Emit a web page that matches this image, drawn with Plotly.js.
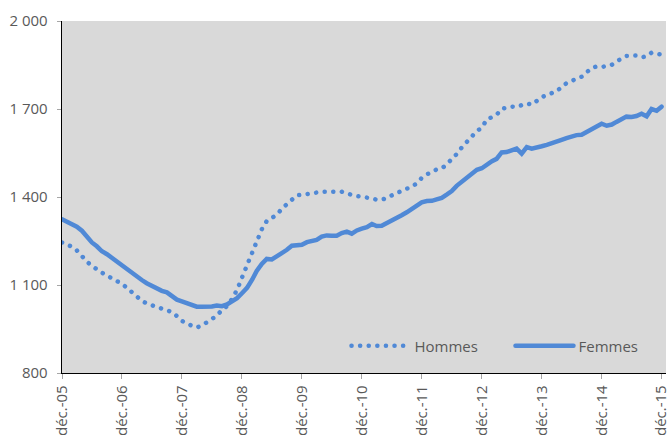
<!DOCTYPE html>
<html>
<head>
<meta charset="utf-8">
<script src="https://cdn.plot.ly/plotly-3.0.1.min.js"></script>
<style>
  html, body { margin: 0; padding: 0; background: #fff; }
  #chart .js-line, #chart .legendlines path { stroke-linecap: round !important; }
</style>
</head>
<body>
<div id="chart" style="width:670px;height:435px;"></div>
<script>
// Monthly values, déc. 2005 -> déc. 2015 (121 months)
const startYear = 2005, startMonth = 12;
const hommes = [
  1245,1238,1230,1218,1198,1180,1165,1152,1142,1132,1122,1116,
  1104,1090,1075,1060,1046,1037,1031,1028,1023,1017,1008,994,
  978,968,960,955,962,972,982,995,1015,1028,1052,1083,
  1125,1170,1207,1250,1290,1318,1328,1339,1360,1375,1393,1406,
  1407,1410,1415,1417,1418,1418,1418,1418,1418,1412,1406,1403,
  1401,1399,1395,1391,1391,1396,1406,1414,1420,1427,1436,1446,
  1465,1477,1487,1494,1498,1510,1530,1546,1569,1588,1610,1625,
  1636,1665,1672,1680,1701,1705,1708,1707,1712,1719,1715,1730,
  1740,1748,1754,1760,1775,1788,1796,1802,1810,1825,1840,1845,
  1843,1847,1851,1862,1872,1881,1882,1882,1876,1880,1892,1888,
  1885
];
const femmes = [
  1324,1316,1309,1299,1285,1265,1245,1232,1215,1205,1192,1180,
  1168,1152,1140,1128,1117,1106,1096,1088,1080,1075,1062,1050,
  1044,1038,1030,1026,1026,1026,1027,1030,1028,1034,1044,1055,
  1072,1090,1118,1148,1172,1189,1187,1197,1208,1220,1234,1236,
  1237,1246,1250,1254,1265,1269,1268,1268,1277,1282,1275,1286,
  1292,1297,1308,1301,1302,1310,1322,1330,1338,1348,1360,1372,
  1382,1386,1387,1392,1397,1408,1420,1438,1453,1468,1483,1493,
  1498,1512,1522,1530,1552,1553,1558,1565,1548,1570,1565,1568,
  1573,1578,1585,1590,1595,1601,1608,1611,1612,1622,1630,1640,
  1650,1643,1647,1656,1666,1674,1673,1676,1684,1675,1700,1694,
  1708
];
const xTickLabels = ['déc.-05','déc.-06','déc.-07','déc.-08','déc.-09','déc.-10',
                     'déc.-11','déc.-12','déc.-13','déc.-14','déc.-15'];
const yTickVals = [800, 1100, 1400, 1700, 2000];

function monthDate(i) {
  const total = (startMonth - 1) + i;
  const y = startYear + Math.floor(total / 12);
  const m = (total % 12) + 1;
  return y + '-' + String(m).padStart(2, '0') + '-01';
}
const dates = hommes.map((_, i) => monthDate(i));
const xTickVals = xTickLabels.map((_, k) => monthDate(12 * k));

const blue = '#5089d6';
const font = 'Open Sans, Noto Sans, sans-serif';

const traces = [
  {
    x: dates, y: hommes, name: 'Hommes', type: 'scatter', mode: 'lines', uid: 'hommes',
    line: { color: blue, width: 4.5, dash: '0.1px,8.5px' }
  },
  {
    x: dates, y: femmes, name: 'Femmes', type: 'scatter', mode: 'lines', uid: 'femmes',
    line: { color: blue, width: 4.5 }
  }
];

const layout = {
  width: 670, height: 435,
  margin: { l: 62, r: 4, t: 21, b: 62, autoexpand: false },
  paper_bgcolor: '#ffffff',
  plot_bgcolor: '#d9d9d9',
  separators: ', ',
  font: { family: font, size: 15, color: '#595959' },
  showlegend: true,
  legend: {
    orientation: 'h',
    x: 0.471, xanchor: 'left',
    y: 0.077, yanchor: 'middle',
    bgcolor: 'rgba(0,0,0,0)',
    font: { family: font, size: 15, color: '#595959' },
    itemwidth: 58,
    entrywidth: 91, entrywidthmode: 'pixels'
  },
  xaxis: {
    type: 'date',
    range: [monthDate(0), '2015-12-28'],
    tickmode: 'array', tickvals: xTickVals, ticktext: xTickLabels,
    tickangle: -90,
    ticklabeloverflow: 'allow',
    ticks: 'outside', ticklen: 5, tickwidth: 1, tickcolor: '#a6a6a6',
    showline: true, linecolor: '#000000', linewidth: 1.3,
    showgrid: false, zeroline: false,
    tickfont: { family: font, size: 15, color: '#595959' }
  },
  yaxis: {
    range: [800, 2000],
    tickmode: 'array', tickvals: yTickVals,
    separatethousands: true,
    ticks: 'outside', ticklen: 4, tickwidth: 1, tickcolor: '#a6a6a6',
    ticklabelstandoff: 6,
    showline: true, linecolor: '#000000', linewidth: 1.3,
    showgrid: false, zeroline: false,
    tickfont: { family: font, size: 15, color: '#595959' }
  }
};

Plotly.newPlot('chart', traces, layout, { displayModeBar: false, staticPlot: true });
</script>
</body>
</html>
